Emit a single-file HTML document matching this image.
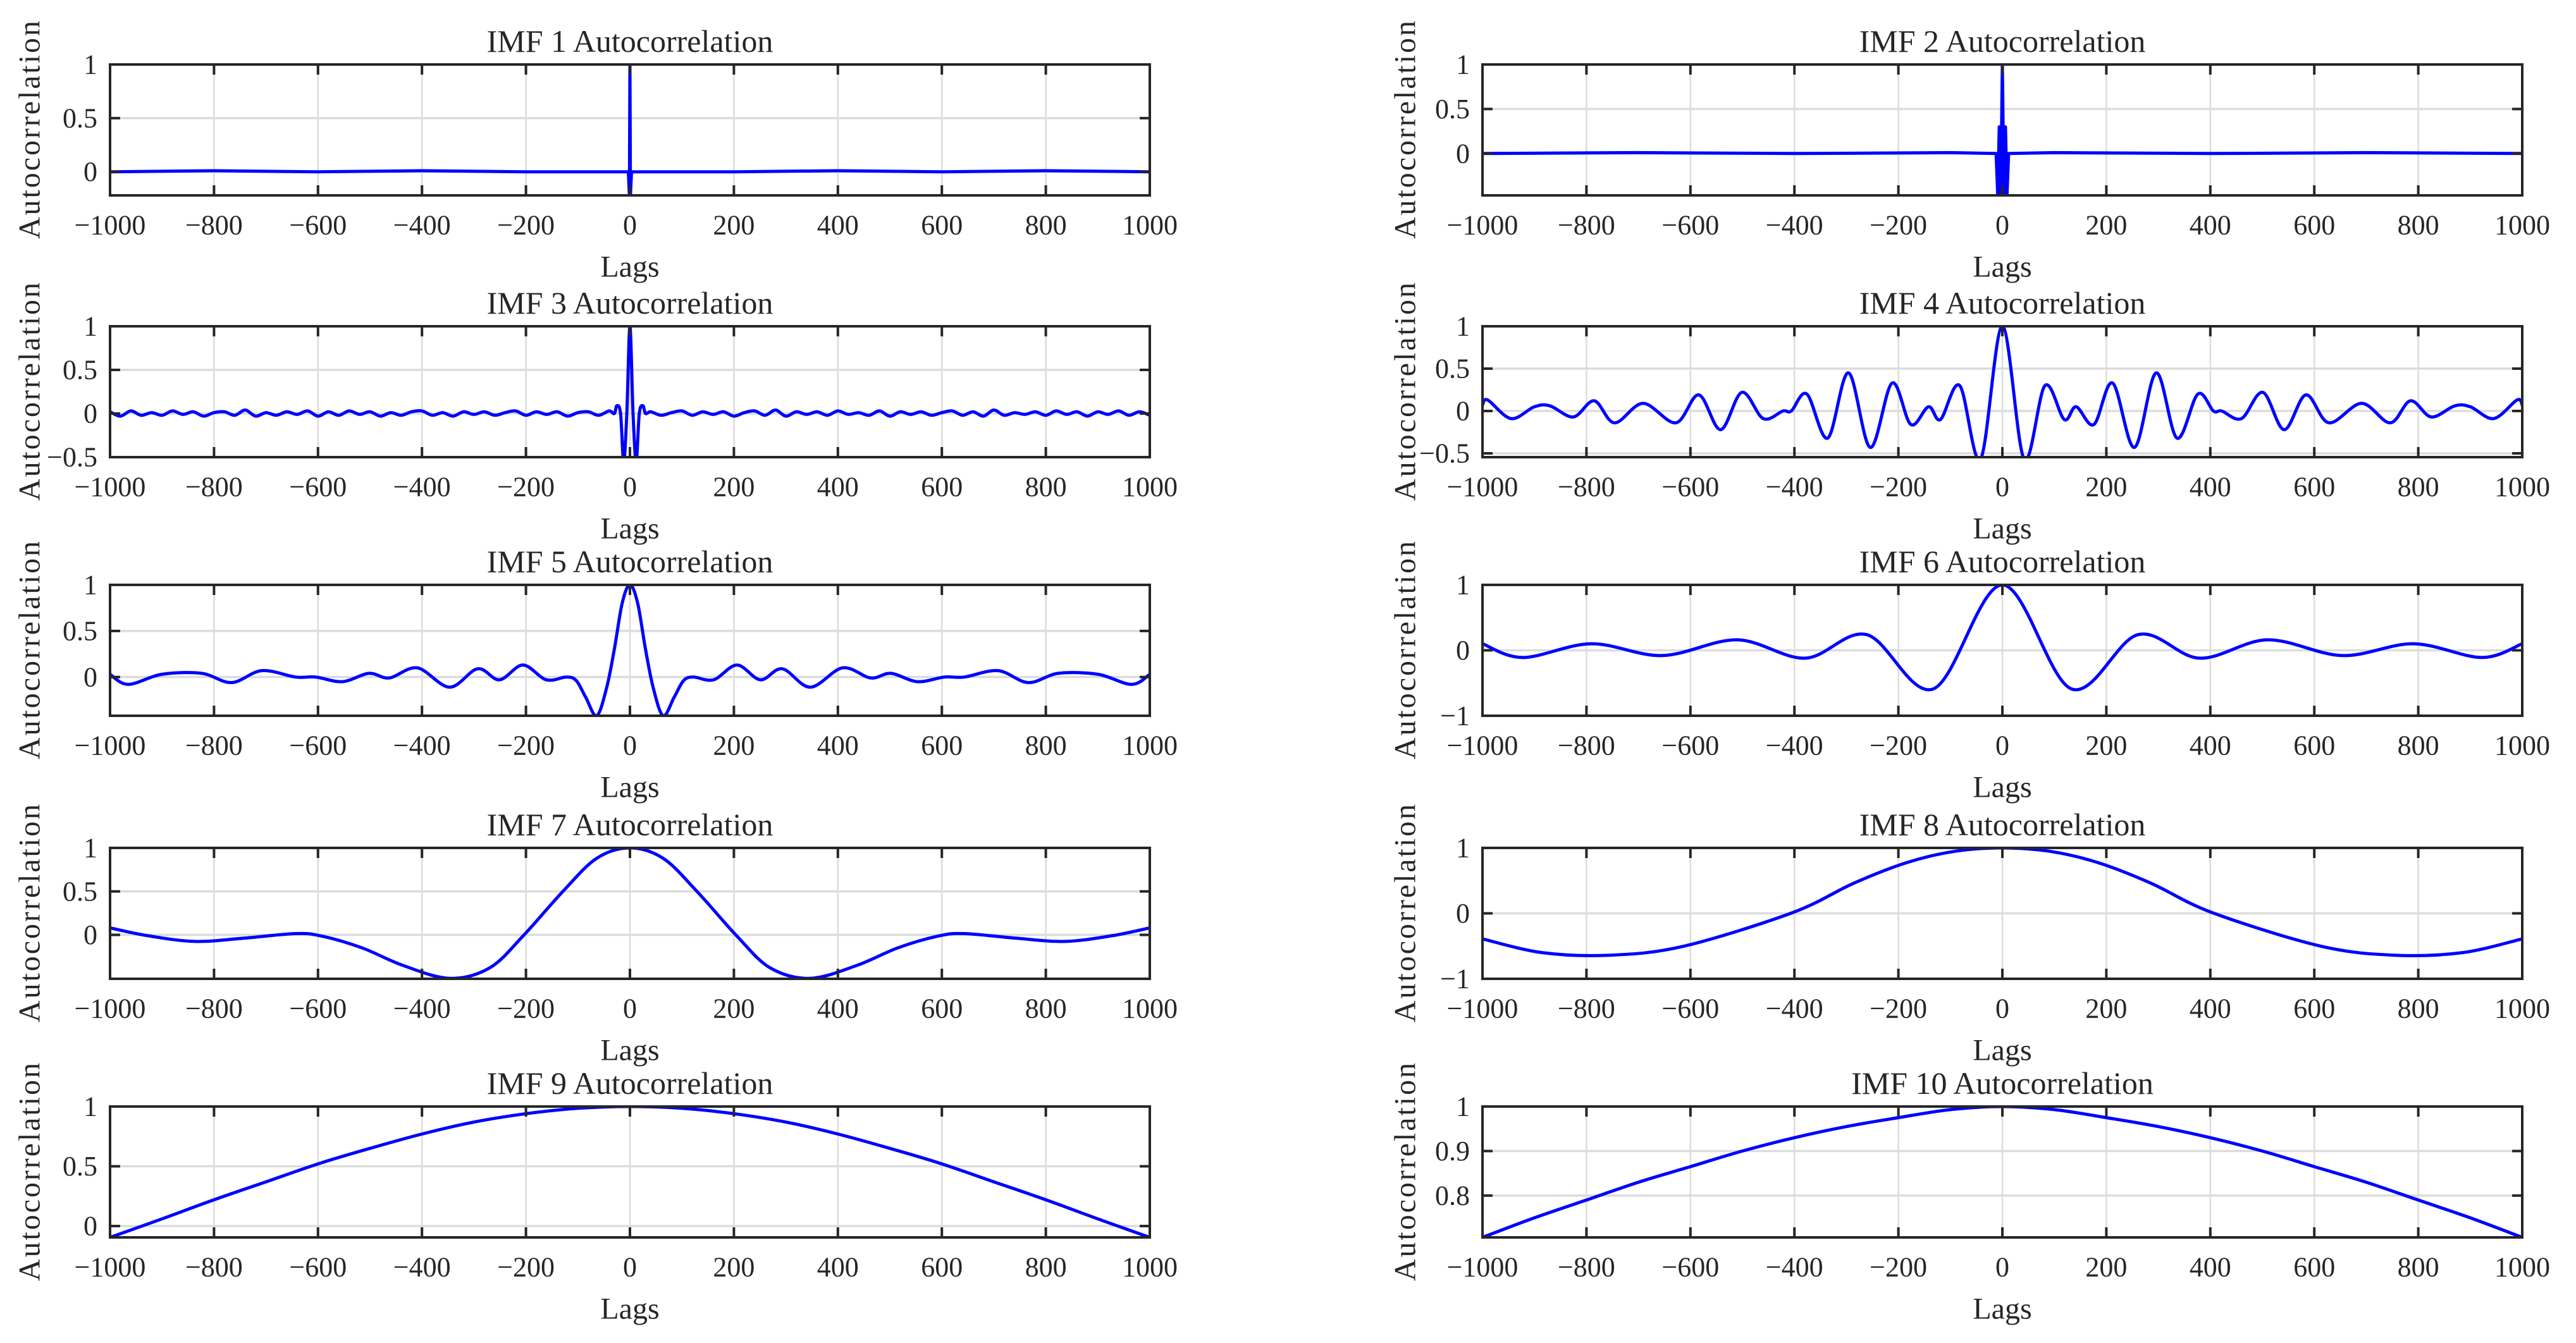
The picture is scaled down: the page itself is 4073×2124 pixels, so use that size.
<!DOCTYPE html>
<html><head><meta charset="utf-8"><style>
html,body{margin:0;padding:0;background:#fff;}
svg{display:block;}
text{font-family:"Liberation Serif",serif;fill:#262626;}
</style></head><body>
<svg id="fig" width="4073" height="2124" viewBox="0 0 4073 2124" xmlns="http://www.w3.org/2000/svg"></svg>
<script>
// ---- data ----
const xTicks = [-1000,-800,-600,-400,-200,0,200,400,600,800,1000];
const titles = ["IMF 1 Autocorrelation","IMF 2 Autocorrelation","IMF 3 Autocorrelation","IMF 4 Autocorrelation","IMF 5 Autocorrelation","IMF 6 Autocorrelation","IMF 7 Autocorrelation","IMF 8 Autocorrelation","IMF 9 Autocorrelation","IMF 10 Autocorrelation"];
const yTicks = [[0,0.5,1],[0,0.5,1],[-0.5,0,0.5,1],[-0.5,0,0.5,1],[0,0.5,1],[-1,0,1],[0,0.5,1],[-1,0,1],[0,0.5,1],[0.8,0.9,1]];
const yMins = [-0.22,-0.47,-0.5,-0.545,-0.42,-1,-0.505,-1,-0.095,0.706];
const yMaxs = [1,1,1,1,1,1,1,1,1,1];

const lags1 = [-1000,-800,-600,-400,-200,-3,-1,0,1,3,200,400,600,800,1000];
const vals1 = [0,0.01,0,0.01,0,0,-0.22,1,-0.22,0,0,0.01,0,0.01,0];
const lags2 = [-1000,-700,-400,-100,-12,-9,-6,-3,0,3,6,9,12,100,400,700,1000];
const vals2 = [0,0.01,0,0.01,0,-0.45,0.3,-0.45,1,-0.45,0.3,-0.45,0,0.01,0,0.01,0];
const lags3Left = [-1000,-980,-960,-940,-920,-900,-880,-860,-840,-820,-800,-780,-760,-740,-720,-700,-680,-660,-640,-620,-600,-580,-560,-540,-520,-500,-480,-460,-440,-420,-400,-380,-360,-340,-320,-300,-280,-260,-240,-220,-200,-180,-160,-140,-120,-100,-80,-60,-40];
const vals3Left = [0.02,-0.03,0.03,-0.02,0.01,-0.02,0.03,-0.01,0.02,-0.03,0.01,0.02,-0.02,0.04,-0.03,0.01,-0.02,0.02,-0.01,0.03,-0.03,0.02,-0.02,0.03,-0.01,0.02,-0.03,0.01,-0.02,0.02,0.03,-0.02,0.01,-0.03,0.02,-0.01,0.02,-0.02,0.01,0.03,-0.02,0.02,-0.01,0.02,-0.03,0.01,0.02,-0.02,0.03];
const lags3Mid = [-30,-25,-18,-12,-6,0,6,12,18,25,30];
const vals3Mid = [0,0.09,0,-0.55,0,1,0,-0.55,0,0.09,0];
const lags3Right = [40,60,80,100,120,140,160,180,200,220,240,260,280,300,320,340,360,380,400,420,440,460,480,500,520,540,560,580,600,620,640,660,680,700,720,740,760,780,800,820,840,860,880,900,920,940,960,980,1000];
const vals3Right = [0.02,-0.02,0.01,0.03,-0.02,0.02,-0.01,0.02,-0.03,0.01,0.03,-0.02,0.04,-0.03,0.02,-0.01,0.02,-0.02,0.03,-0.01,0.01,-0.02,0.03,-0.03,0.02,-0.01,0.02,-0.02,0.01,0.03,-0.02,0.02,-0.03,0.04,-0.02,0.01,-0.01,0.02,-0.02,0.03,-0.01,0.02,-0.03,0.02,-0.01,0.03,-0.02,0.02,-0.02];
const lags4 = [-1000,-990,-945,-900,-870,-825,-785,-746,-691,-628,-584,-542,-501,-460,-422,-406,-376,-336,-296,-254,-212,-176,-142,-119,-82,-42,0,42,82,119,142,176,212,254,296,336,376,406,422,460,501,542,584,628,691,746,785,825,870,900,945,990,1000];
const vals4 = [0.07,0.13,-0.09,0.05,0.06,-0.07,0.12,-0.14,0.09,-0.14,0.19,-0.22,0.22,-0.09,0,0,0.2,-0.32,0.45,-0.43,0.33,-0.16,0.05,-0.1,0.3,-0.57,1,-0.57,0.3,-0.1,0.05,-0.16,0.33,-0.43,0.45,-0.32,0.2,0,0,-0.09,0.22,-0.22,0.19,-0.14,0.09,-0.14,0.12,-0.07,0.06,0.05,-0.09,0.13,0.07];
const lags5 = [-1000,-965,-900,-824,-766,-708,-643,-605,-553,-502,-463,-409,-347,-293,-251,-206,-161,-122,-103,-85,-64,-45,-30,-15,0,15,30,45,64,85,103,122,161,206,251,293,347,409,463,502,553,605,643,708,766,824,900,965,1000];
const vals5 = [0.03,-0.08,0.03,0.04,-0.06,0.07,0,0,-0.05,0.04,-0.01,0.1,-0.11,0.09,-0.03,0.13,-0.03,0,-0.04,-0.22,-0.42,-0.12,0.3,0.8,1,0.8,0.3,-0.12,-0.42,-0.22,-0.04,0,-0.03,0.13,-0.03,0.09,-0.11,0.1,-0.01,0.04,-0.05,0,0,0.07,-0.06,0.04,0.03,-0.08,0.03];
const lags6 = [-1000,-922,-791,-654,-510,-379,-261,-133,0,133,261,379,510,654,791,922,1000];
const vals6 = [0.1,-0.11,0.1,-0.08,0.16,-0.12,0.24,-0.59,1,-0.59,0.24,-0.12,0.16,-0.08,0.1,-0.11,0.1];
const lags7 = [-1000,-927,-837,-746,-643,-592,-515,-437,-347,-270,-206,-129,-64,0,64,129,206,270,347,437,515,592,643,746,837,927,1000];
const vals7 = [0.08,-0.01,-0.075,-0.04,0.015,-0.015,-0.15,-0.35,-0.5,-0.38,-0.015,0.5,0.88,1,0.88,0.5,-0.015,-0.38,-0.5,-0.35,-0.15,-0.015,0.015,-0.04,-0.075,-0.01,0.08];
const lags8 = [-1000,-885,-755,-612,-404,-286,-182,-90,0,90,182,286,404,612,755,885,1000];
const vals8 = [-0.39,-0.6,-0.64,-0.5,0.01,0.46,0.78,0.95,1,0.95,0.78,0.46,0.01,-0.5,-0.64,-0.6,-0.39];
const lags9 = [-1000,-900,-800,-700,-600,-500,-400,-300,-200,-100,0,100,200,300,400,500,600,700,800,900,1000];
const vals9 = [-0.095,0.06,0.22,0.37,0.52,0.65,0.77,0.87,0.94,0.985,1,0.985,0.94,0.87,0.77,0.65,0.52,0.37,0.22,0.06,-0.095];
const lags10 = [-1000,-900,-800,-700,-600,-500,-400,-300,-200,-100,0,100,200,300,400,500,600,700,800,900,1000];
const vals10 = [0.706,0.75,0.79,0.83,0.865,0.9,0.93,0.955,0.975,0.993,1,0.993,0.975,0.955,0.93,0.9,0.865,0.83,0.79,0.75,0.706];

const seriesLags = [lags1,lags2,lags3Left.concat(lags3Mid,lags3Right),lags4,lags5,lags6,lags7,lags8,lags9,lags10];
const seriesVals = [vals1,vals2,vals3Left.concat(vals3Mid,vals3Right),vals4,vals5,vals6,vals7,vals8,vals9,vals10];
const smoothFlags = [false,false,true,true,true,true,true,true,true,true];

// ---- layout ----
const NS = "http://www.w3.org/2000/svg";
const svg = document.getElementById('fig');
const colX = [174, 2344];
const colW = [1644, 1644];
const rowY = [102, 516, 925, 1341, 1750];
const PH = 207;
const ylabX = [47, 2222];

function mk(tag, attrs, parent) {
  const e = document.createElementNS(NS, tag);
  for (const k in attrs) e.setAttribute(k, attrs[k]);
  (parent || svg).appendChild(e);
  return e;
}
function fmt(v) {
  const s = String(v);
  return v < 0 ? '\u2212' + s.slice(1) : s;
}

for (let i = 0; i < 10; i++) {
  const col = i % 2, row = Math.floor(i / 2);
  const x0 = colX[col], w = colW[col], y0 = rowY[row], h = PH;
  const ymin = yMins[i], ymax = yMaxs[i];
  const sx = v => x0 + (v + 1000) / 2000 * w;
  const sy = v => y0 + (ymax - v) / (ymax - ymin) * h;

  const g = mk('g', {});
  
  

  const cp = mk('clipPath', {id: 'clip' + i}, g);
  mk('rect', {x: x0, y: y0, width: w, height: h}, cp);

  xTicks.forEach(t => {
    const l = mk('line', {x1: sx(t), x2: sx(t), y1: y0, y2: y0 + h, stroke: '#dcdcdc', 'stroke-width': 2.5}, g);
    
    
  });
  yTicks[i].forEach(t => {
    const l = mk('line', {x1: x0, x2: x0 + w, y1: sy(t), y2: sy(t), stroke: '#dcdcdc', 'stroke-width': 3.5}, g);
    
    
  });

  const lg = seriesLags[i], vs = seriesVals[i];
  const P = lg.map((l, k) => [sx(l), sy(vs[k])]);
  let d = 'M' + P[0][0].toFixed(1) + ',' + P[0][1].toFixed(1);
  for (let k = 0; k < P.length - 1; k++) {
    if (!smoothFlags[i]) { d += ' L' + P[k+1][0].toFixed(1) + ',' + P[k+1][1].toFixed(1); continue; }
    const p0 = P[Math.max(0, k - 1)], p1 = P[k], p2 = P[k + 1], p3 = P[Math.min(P.length - 1, k + 2)];
    const c1x = p1[0] + (p2[0] - p0[0]) / 6, c1y = p1[1] + (p2[1] - p0[1]) / 6;
    const c2x = p2[0] - (p3[0] - p1[0]) / 6, c2y = p2[1] - (p3[1] - p1[1]) / 6;
    d += ' C' + c1x.toFixed(1) + ',' + c1y.toFixed(1) + ' ' + c2x.toFixed(1) + ',' + c2y.toFixed(1) + ' ' + p2[0].toFixed(1) + ',' + p2[1].toFixed(1);
  }
  const path = mk('path', {d: d, fill: 'none', stroke: '#0000ff', 'stroke-width': 5, 'stroke-linejoin': 'round', 'clip-path': 'url(#clip' + i + ')'}, g);
  
  

  xTicks.forEach(t => {
    mk('line', {x1: sx(t), x2: sx(t), y1: y0 + h, y2: y0 + h - 16, stroke: '#262626', 'stroke-width': 4}, g);
    mk('line', {x1: sx(t), x2: sx(t), y1: y0, y2: y0 + 16, stroke: '#262626', 'stroke-width': 4}, g);
    const tx = mk('text', {x: sx(t), y: y0 + h + 47, 'font-size': 44, 'text-anchor': 'middle', 'dominant-baseline': 'central'}, g);
    tx.textContent = fmt(t);
    
    
  });
  yTicks[i].forEach(t => {
    mk('line', {x1: x0, x2: x0 + 16, y1: sy(t), y2: sy(t), stroke: '#262626', 'stroke-width': 4}, g);
    mk('line', {x1: x0 + w, x2: x0 + w - 16, y1: sy(t), y2: sy(t), stroke: '#262626', 'stroke-width': 4}, g);
    const tx = mk('text', {x: x0 - 20, y: sy(t), 'font-size': 44, 'text-anchor': 'end', 'dominant-baseline': 'central'}, g);
    tx.textContent = fmt(t);
    
    
  });

  const box = mk('rect', {x: x0, y: y0, width: w, height: h, fill: 'none', stroke: '#262626', 'stroke-width': 4}, g);
  
  

  const ti = mk('text', {x: x0 + w / 2, y: y0 - 37, 'font-size': 50, 'text-anchor': 'middle', 'dominant-baseline': 'central'}, g);
  ti.textContent = titles[i];
  
  

  const xl = mk('text', {x: x0 + w / 2, y: y0 + h + 113, 'font-size': 48, 'text-anchor': 'middle', 'dominant-baseline': 'central'}, g);
  xl.textContent = 'Lags';
  
  

  const cy = y0 + h / 2;
  const yl = mk('text', {x: ylabX[col], y: cy, 'font-size': 48, 'text-anchor': 'middle', 'dominant-baseline': 'central', textLength: 345, lengthAdjust: 'spacing', transform: 'rotate(-90 ' + ylabX[col] + ' ' + cy + ')'}, g);
  yl.textContent = 'Autocorrelation';
  
  
}
</script>
</body></html>
